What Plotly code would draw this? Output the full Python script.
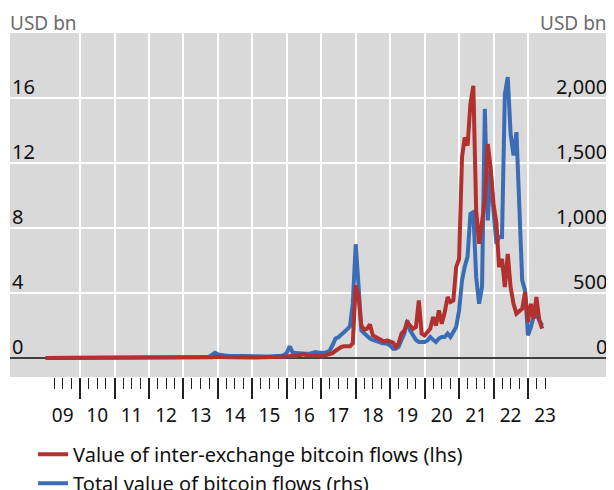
import pandas as pd
import plotly.graph_objects as go

# ---- data (monthly, Jan 2009 - Jun 2023) ----
dates = pd.date_range("2009-01-01", "2023-06-01", freq="MS")

# Value of inter-exchange bitcoin flows (lhs, USD bn)
inter_2009 = [0, 0, 0, 0, 0, 0, 0, 0, 0, 0, 0, 0]
inter_2010 = [0, 0, 0, 0, 0, 0, 0, 0, 0, 0, 0, 0]
inter_2011 = [0, 0, 0, 0, 0, 0, 0, 0, 0, 0, 0, 0]
inter_2012 = [0, 0, 0, 0, 0, 0, 0, 0, 0, 0, 0, 0]
inter_2013 = [0, 0, 0, 0, 0, 0, 0, 0, 0.01, 0.02, 0.05, 0.08]
inter_2014 = [0.06, 0.05, 0.05, 0.04, 0.04, 0.04, 0.03, 0.03, 0.03, 0.03, 0.03, 0.03]
inter_2015 = [0.03, 0.03, 0.03, 0.03, 0.03, 0.03, 0.04, 0.04, 0.05, 0.06, 0.08, 0.1]
inter_2016 = [0.12, 0.15, 0.12, 0.12, 0.15, 0.2, 0.23, 0.15, 0.12, 0.12, 0.15, 0.12]
inter_2017 = [0.12, 0.15, 0.2, 0.25, 0.3, 0.45, 0.58, 0.68, 0.72, 0.7, 0.72, 0.9]
inter_2018 = [4.47, 3.75, 2.0, 1.75, 1.8, 2.07, 1.4, 1.3, 1.19, 1.05, 1.0, 1.08]
inter_2019 = [1.02, 0.95, 0.68, 0.9, 1.5, 1.7, 2.2, 2.0, 1.8, 1.9, 3.54, 1.5]
inter_2020 = [1.39, 1.6, 1.8, 2.52, 2.0, 2.93, 2.11, 2.8, 3.75, 3.44, 3.54, 5.59]
inter_2021 = [6.1, 12.35, 13.57, 13.07, 15.63, 16.75, 9.07, 7.03, 8.5, 9.69, 13.17, 11.73]
inter_2022 = [9.48, 8.26, 5.59, 6.1, 4.36, 6.41, 4.36, 3.34, 2.73, 2.9, 3.03, 4.05]
inter_2023 = [2.21, 3.34, 2.42, 3.75, 2.32, 1.81]

# Total value of bitcoin flows (rhs, USD bn)
total_2009 = [0, 0, 0, 0, 0, 0, 0, 0, 0, 0, 0, 0]
total_2010 = [0, 0, 0, 0, 0, 0, 0, 0.5, 0.5, 0.5, 1, 1]
total_2011 = [1, 1, 1, 2, 2, 3, 2, 2, 2, 2, 2, 2]
total_2012 = [2, 2, 2, 2, 2, 3, 3, 3, 3, 3, 3, 3]
total_2013 = [3, 4, 5, 5, 5, 5, 5, 6, 7, 10, 22, 40]
total_2014 = [28, 22, 20, 18, 17, 16, 15, 15, 14, 14, 13, 13]
total_2015 = [12, 12, 12, 11, 11, 11, 12, 12, 13, 15, 18, 22]
total_2016 = [40, 90, 45, 38, 35, 33, 35, 33, 33, 38, 45, 40]
total_2017 = [38, 40, 45, 59, 100, 150, 160, 185, 200, 220, 243, 420]
total_2018 = [875, 546, 213, 190, 170, 150, 140, 135, 125, 115, 112, 110]
total_2019 = [95, 72, 72, 85, 140, 188, 290, 213, 175, 140, 123, 123]
total_2020 = [123, 135, 162, 140, 123, 150, 162, 162, 188, 162, 200, 238]
total_2021 = [367, 597, 700, 780, 1109, 1122, 622, 418, 546, 1916, 1058, 1444]
total_2022 = [1135, 879, 931, 931, 2028, 2160, 1724, 1557, 1737, 1212, 597, 520]
total_2023 = [175, 238, 315, 330, 290, 251]

inter_exchange = (inter_2009 + inter_2010 + inter_2011 + inter_2012 + inter_2013 + inter_2014
                  + inter_2015 + inter_2016 + inter_2017 + inter_2018 + inter_2019 + inter_2020
                  + inter_2021 + inter_2022 + inter_2023)
total_flows = (total_2009 + total_2010 + total_2011 + total_2012 + total_2013 + total_2014
               + total_2015 + total_2016 + total_2017 + total_2018 + total_2019 + total_2020
               + total_2021 + total_2022 + total_2023)

lhs_ticks = [0, 4, 8, 12, 16]
rhs_ticks = [0, 500, 1000, 1500, 2000]
rhs_ticktext = ["0", "500", "1,000", "1,500", "2,000"]
years = list(range(2009, 2024))
year_labels = [f"{y % 100:02d}" for y in years]

# ---- styling ----
RED = "#B2302E"
BLUE = "#3A6DB5"
FONT = "Noto Sans"
TXT = "#111111"

major_ticks = [f"{y}-01-01" for y in range(2010, 2024)]
minor_ticks = [f"{y}-{m:02d}-01" for y in range(2009, 2024) for m in (4, 7, 10)
               if not (y == 2023 and m == 10)]
label_pos = [f"{y}-07-01" for y in years]
xrange = ["2007-12-20", "2025-06-10"]

fig = go.Figure()
fig.add_trace(go.Scatter(x=dates, y=inter_exchange, name="Value of inter-exchange bitcoin flows (lhs)",
                         mode="lines", line=dict(color=RED, width=4), yaxis="y2", xaxis="x"))
fig.add_trace(go.Scatter(x=dates, y=total_flows, name="Total value of bitcoin flows (rhs)",
                         mode="lines", line=dict(color=BLUE, width=4), yaxis="y", xaxis="x"))
# invisible trace to activate the year-label axis
fig.add_trace(go.Scatter(x=[dates[0]], y=[None], xaxis="x2", yaxis="y", showlegend=False,
                         hoverinfo="skip", mode="lines"))

# page body has an 8px default margin: figure sized to fit the 614x490 window
fig.update_layout(
    width=606, height=482,
    margin=dict(l=2, r=2, t=25, b=113, autoexpand=False),
    paper_bgcolor="white",
    plot_bgcolor="#D9D9D9",
    font=dict(family=FONT, size=19, color=TXT),
    showlegend=True,
    legend=dict(orientation="v", x=0.0383, xanchor="left", y=-0.168, yanchor="top",
                font=dict(family=FONT, size=20, color=TXT), bgcolor="rgba(0,0,0,0)",
                tracegroupgap=0, itemwidth=30),
    xaxis=dict(type="date", range=xrange, tickmode="array", tickvals=major_ticks,
               showticklabels=False, ticks="outside", ticklen=21, tickwidth=1.5, tickcolor="#222",
               showgrid=True, gridcolor="white", gridwidth=2, showline=False, zeroline=False,
               minor=dict(tickmode="array", tickvals=minor_ticks, ticks="outside", ticklen=11,
                          tickwidth=1.2, tickcolor="#222", showgrid=False)),
    xaxis2=dict(type="date", range=xrange, overlaying="x", anchor="y", side="bottom",
                tickmode="array", tickvals=label_pos, ticktext=year_labels,
                ticks="outside", ticklen=21, tickcolor="rgba(0,0,0,0)",
                showgrid=False, zeroline=False, showline=False,
                tickfont=dict(family=FONT, size=19, color=TXT)),
    yaxis=dict(range=[-146, 2500], side="right", tickmode="array", tickvals=rhs_ticks,
               showticklabels=False, showgrid=True, gridcolor="white", gridwidth=2,
               zeroline=True, zerolinecolor="#3F3F3F", zerolinewidth=2, showline=False),
    yaxis2=dict(range=[-1.168, 20], overlaying="y", side="left", showticklabels=False,
                showgrid=False, zeroline=False, showline=False),
)

annotations = []
for v in lhs_ticks:
    annotations.append(dict(x=0, xref="paper", xanchor="left", xshift=0, y=v, yref="y2",
                            yanchor="middle", yshift=12, text=str(v), showarrow=False,
                            font=dict(family=FONT, size=20, color=TXT)))
for v, t in zip(rhs_ticks, rhs_ticktext):
    annotations.append(dict(x=1, xref="paper", xanchor="right", xshift=-3, y=v, yref="y",
                            yanchor="middle", yshift=12, text=t, showarrow=False,
                            font=dict(family=FONT, size=20, color=TXT)))
annotations.append(dict(x=0, xref="paper", xanchor="left", xshift=-2, y=1, yref="paper",
                        yanchor="bottom", yshift=-5, text="USD bn", showarrow=False,
                        font=dict(family=FONT, size=19, color="#6B6B6B")))
annotations.append(dict(x=1, xref="paper", xanchor="right", xshift=-3, y=1, yref="paper",
                        yanchor="bottom", yshift=-5, text="USD bn", showarrow=False,
                        font=dict(family=FONT, size=19, color="#6B6B6B")))
fig.update_layout(annotations=annotations)

fig.write_html("out.html")
